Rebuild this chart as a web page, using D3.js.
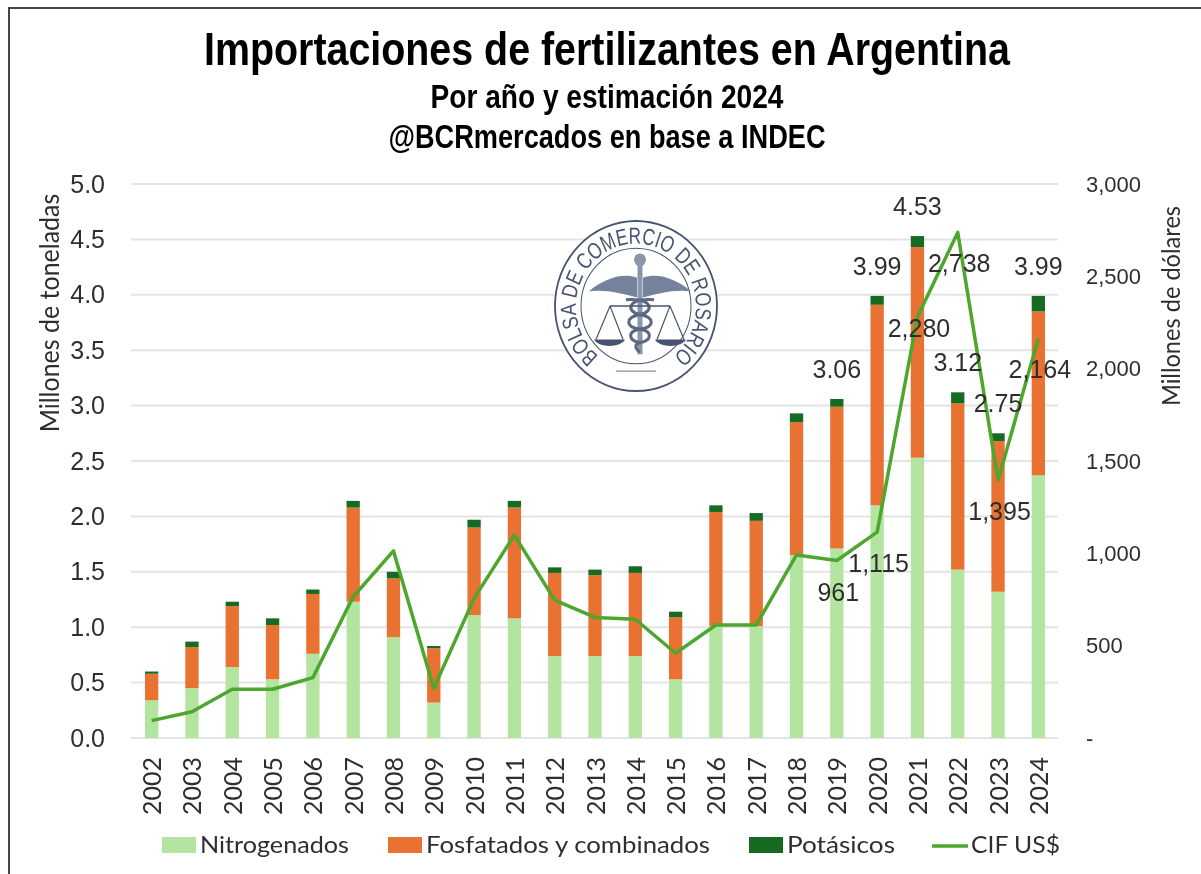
<!DOCTYPE html>
<html>
<head>
<meta charset="utf-8">
<script src="https://cdn.jsdelivr.net/npm/d3@7"></script>
<style>
  html, body { margin: 0; padding: 0; background: #fff; }
  svg { display: block; }
  text { font-family: "Liberation Sans", sans-serif; fill: #2f2f2f; }
  .title { font-family: "Liberation Sans Narrow", "Liberation Sans", sans-serif; font-weight: bold; fill: #000; }
  .legend text, .axis-title, .year { font-family: Lato, sans-serif; }
</style>
</head>
<body>
<div id="content"></div>
<script>
const years = ['2002', '2003', '2004', '2005', '2006', '2007', '2008', '2009', '2010', '2011', '2012',
  '2013', '2014', '2015', '2016', '2017', '2018', '2019', '2020', '2021', '2022', '2023', '2024'];
const nitrogenados = [0.34, 0.45, 0.64, 0.53, 0.76, 1.23, 0.91, 0.32, 1.11, 1.08, 0.74,
  0.74, 0.74, 0.53, 1.01, 1.01, 1.65, 1.71, 2.10, 2.53, 1.52, 1.32, 2.37];
const fosfatados = [0.24, 0.37, 0.55, 0.49, 0.54, 0.85, 0.53, 0.49, 0.79, 1.00, 0.75,
  0.73, 0.75, 0.56, 1.03, 0.95, 1.20, 1.28, 1.81, 1.90, 1.50, 1.36, 1.48];
const potasicos = [0.02, 0.05, 0.04, 0.06, 0.04, 0.06, 0.06, 0.02, 0.07, 0.06, 0.05,
  0.05, 0.06, 0.05, 0.06, 0.07, 0.08, 0.07, 0.08, 0.10, 0.10, 0.07, 0.14];
const cif = [94, 142, 264, 264, 327, 765, 1013, 269, 756, 1099, 747,
  653, 643, 459, 612, 612, 991, 961, 1115, 2280, 2738, 1395, 2164];
const labeledYears = ['2019', '2020', '2021', '2022', '2023', '2024'];
const tonTicks = [0, 0.5, 1, 1.5, 2, 2.5, 3, 3.5, 4, 4.5, 5];
const usdTicks = [0, 500, 1000, 1500, 2000, 2500, 3000];
const seriesNames = ['Nitrogenados', 'Fosfatados y combinados', 'Potásicos', 'CIF US$'];

const width = 1201;
const height = 874;
const lightGreen = '#b3e5a1';
const orange = '#e97132';
const darkGreen = '#196b24';
const lineGreen = '#4ea72e';
const gridGrey = '#e4e4e4';
const sealBlue = '#46536f';

const root = d3.select('#content')
  .append('svg')
  .attr('width', width)
  .attr('height', height);

// the reference is a soft screenshot
root.append('defs')
  .append('filter')
  .attr('id', 'soft')
  .attr('filterUnits', 'userSpaceOnUse')
  .attr('x', 0)
  .attr('y', 0)
  .attr('width', width)
  .attr('height', height)
  .append('feGaussianBlur')
  .attr('stdDeviation', 0.5);
const svg = root.append('g').attr('filter', 'url(#soft)');

// frame of the original screenshot, only top and left show
svg.append('path')
  .attr('d', `M${width},8H9V${height}`)
  .attr('fill', 'none')
  .attr('stroke', '#444')
  .attr('stroke-width', 2);

const titles = [
  { text: 'Importaciones de fertilizantes en Argentina', y: 65, size: 47, w: 806 },
  { text: 'Por año y estimación 2024', y: 108, size: 33, w: 353 },
  { text: '@BCRmercados en base a INDEC', y: 148, size: 33, w: 437 },
];
svg.selectAll('.title')
  .data(titles)
  .enter()
  .append('text')
  .classed('title', true)
  .attr('x', 607)
  .attr('y', d => d.y)
  .attr('text-anchor', 'middle')
  .attr('font-size', d => d.size)
  .attr('textLength', d => d.w)
  .attr('lengthAdjust', 'spacingAndGlyphs')
  .text(d => d.text);

const x = d3.scaleBand().domain(years).range([131.5, 1058.5]).paddingInner(0.67).paddingOuter(0.335);
const yTon = d3.scaleLinear().domain([0, 5]).range([738, 184]);
const yUsd = d3.scaleLinear().domain([0, 3000]).range([738, 184]);
const cx = year => x(year) + x.bandwidth() / 2;

// gridlines
svg.append('g')
  .selectAll('line')
  .data(tonTicks)
  .enter()
  .append('line')
  .attr('x1', 131)
  .attr('x2', 1058)
  .attr('y1', d => yTon(d))
  .attr('y2', d => yTon(d))
  .attr('stroke', gridGrey)
  .attr('stroke-width', 2);

// logo
const logo = svg.append('g')
  .attr('transform', 'translate(636,306) scale(1,1.05)')
  .attr('fill', 'none')
  .attr('stroke', sealBlue);
logo.append('circle').attr('r', 81).attr('fill', '#fff').attr('stroke-width', 1.8);
logo.append('circle').attr('r', 55).attr('stroke-width', 1);
logo.append('path').attr('id', 'seal-arc').attr('stroke', 'none')
  .attr('d', 'M-38,47 A60,60 0 1 1 38,47');
logo.append('text')
  .attr('font-size', 22)
  .attr('stroke', 'none')
  .style('fill', sealBlue)
  .append('textPath')
  .attr('href', '#seal-arc')
  .attr('startOffset', '50%')
  .attr('text-anchor', 'middle')
  .attr('textLength', 296)
  .attr('lengthAdjust', 'spacingAndGlyphs')
  .text('BOLSA DE COMERCIO DE ROSARIO');
// wings, staff, snake and the two scales
logo.append('g')
  .attr('transform', 'translate(4,0)')
  .call((g) => {
    g.append('path').attr('fill', '#76829b').attr('stroke', 'none')
      .attr('d', 'M-3,-27 C-18,-32 -36,-26 -51,-14 C-34,-16 -18,-12 -3,-8Z M3,-27 C18,-32 36,-26 51,-14 C34,-16 18,-12 3,-8Z');
    g.append('rect').attr('x', -2.5).attr('y', -44).attr('width', 5).attr('height', 90).attr('fill', '#8b96ac').attr('stroke', 'none');
    g.append('circle').attr('cy', -44).attr('r', 6).attr('fill', '#8b96ac').attr('stroke', 'none');
    g.append('path').attr('stroke-width', 3).attr('stroke', '#5b6883')
      .attr('d', 'M-14,-6 C14,-8 14,6 0,8 C-15,11 -15,20 0,22 C13,24 12,33 0,35 C-6,36 -5,41 0,44 M14,-6 C-14,-8 -14,6 0,8 C15,11 15,20 0,22 C-13,24 -12,33 0,35');
    g.append('path').attr('stroke-width', 1.2)
      .attr('d', 'M-30,0 H30 M-30,0 L-44,32 M-30,0 L-17,32 M30,0 L17,32 M30,0 L44,32');
    g.append('path').attr('fill', sealBlue).attr('stroke', 'none')
      .attr('d', 'M-46,32 H-15 C-19,40 -42,40 -46,32Z M15,32 H46 C42,40 19,40 15,32Z');
    g.append('path').attr('stroke-width', 0.8).attr('d', 'M-24,62 H16');
  });

// stacked bars
const rows = years.map((year, i) => ({
  year,
  Nitrogenados: nitrogenados[i],
  Fosfatados: fosfatados[i],
  Potasicos: potasicos[i],
}));
const stack = d3.stack().keys(['Nitrogenados', 'Fosfatados', 'Potasicos']);
const barColors = [lightGreen, orange, darkGreen];
svg.append('g')
  .selectAll('g')
  .data(stack(rows))
  .enter()
  .append('g')
  .attr('fill', (d, i) => barColors[i])
  .selectAll('rect')
  .data(d => d)
  .enter()
  .append('rect')
  .attr('x', d => x(d.data.year))
  .attr('width', x.bandwidth())
  .attr('y', d => yTon(d[1]))
  .attr('height', d => yTon(d[0]) - yTon(d[1]));

// CIF line
const line = d3.line()
  .x((d, i) => cx(years[i]))
  .y(d => yUsd(d));
svg.append('path')
  .datum(cif)
  .attr('d', line)
  .attr('fill', 'none')
  .attr('stroke', lineGreen)
  .attr('stroke-width', 3.5)
  .attr('stroke-linejoin', 'round');

// data labels, last six years only
const labeled = labeledYears.map((year) => {
  const i = years.indexOf(year);
  return { year, total: nitrogenados[i] + fosfatados[i] + potasicos[i], usd: cif[i] };
});
svg.append('g')
  .selectAll('text')
  .data(labeled)
  .enter()
  .append('text')
  .attr('x', d => cx(d.year))
  .attr('y', d => yTon(d.total) - 21)
  .attr('text-anchor', 'middle')
  .attr('font-size', 25)
  .text(d => d.total.toFixed(2));
svg.append('g')
  .selectAll('text')
  .data(labeled)
  .enter()
  .append('text')
  .attr('x', d => cx(d.year) + 1.5)
  // the 2021 label sits closer to its point in the original
  .attr('y', d => yUsd(d.usd) + (d.year === '2021' ? 20 : 40))
  .attr('text-anchor', 'middle')
  .attr('font-size', 25)
  .text(d => d3.format(',')(d.usd));

// axes
const leftAxis = d3.axisLeft(yTon).tickValues(tonTicks).tickSize(0).tickPadding(0).tickFormat(d3.format('.1f'));
svg.append('g')
  .attr('transform', 'translate(105,0)')
  .call(leftAxis)
  .call(g => g.select('.domain').remove())
  .selectAll('text')
  .attr('font-size', 25)
  .attr('font-family', null);

const rightAxis = d3.axisRight(yUsd).tickValues(usdTicks).tickSize(0).tickPadding(0)
  .tickFormat(d => (d === 0 ? '-' : d3.format(',')(d)));
svg.append('g')
  .attr('transform', 'translate(1086,0)')
  .call(rightAxis)
  .call(g => g.select('.domain').remove())
  .selectAll('text')
  .attr('font-size', 22)
  .attr('font-family', null);

const bottomAxis = d3.axisBottom(x).tickSize(0).tickPadding(0);
svg.append('g')
  .attr('transform', 'translate(0,757)')
  .call(bottomAxis)
  .call(g => g.select('.domain').remove())
  .selectAll('text')
  .classed('year', true)
  .attr('font-size', 25)
  .attr('font-family', null)
  .attr('text-anchor', 'end')
  .attr('dy', null)
  .attr('y', 0)
  .attr('transform', 'rotate(-90) translate(0,9.5)');

svg.append('text')
  .classed('axis-title', true)
  .attr('transform', 'translate(59,313) rotate(-90) scale(1,1.1)')
  .attr('text-anchor', 'middle')
  .attr('font-size', 25)
  .text('Millones de toneladas');
svg.append('text')
  .classed('axis-title', true)
  .attr('transform', 'translate(1180,306) rotate(-90) scale(1,1.1)')
  .attr('text-anchor', 'middle')
  .attr('font-size', 23.6)
  .text('Millones de dólares');

// legend
const legendX = [162, 388, 749, 932];
const legendW = [149, 284, 108, 89];
const legend = svg.append('g')
  .classed('legend', true)
  .selectAll('g')
  .data(seriesNames)
  .enter()
  .append('g')
  .attr('transform', (d, i) => `translate(${legendX[i]},0)`);
legend.filter((d, i) => i < 3)
  .append('rect')
  .attr('y', 837)
  .attr('width', 34)
  .attr('height', 16)
  .attr('fill', (d, i) => barColors[i]);
legend.filter((d, i) => i === 3)
  .append('line')
  .attr('x2', 36)
  .attr('y1', 846)
  .attr('y2', 846)
  .attr('stroke', lineGreen)
  .attr('stroke-width', 3.5);
legend.append('text')
  .attr('x', (d, i) => (i === 3 ? 39 : 38))
  .attr('y', 853)
  .attr('font-size', 23)
  .attr('textLength', (d, i) => legendW[i])
  .attr('lengthAdjust', 'spacingAndGlyphs')
  .text(d => d);
</script>
</body>
</html>
